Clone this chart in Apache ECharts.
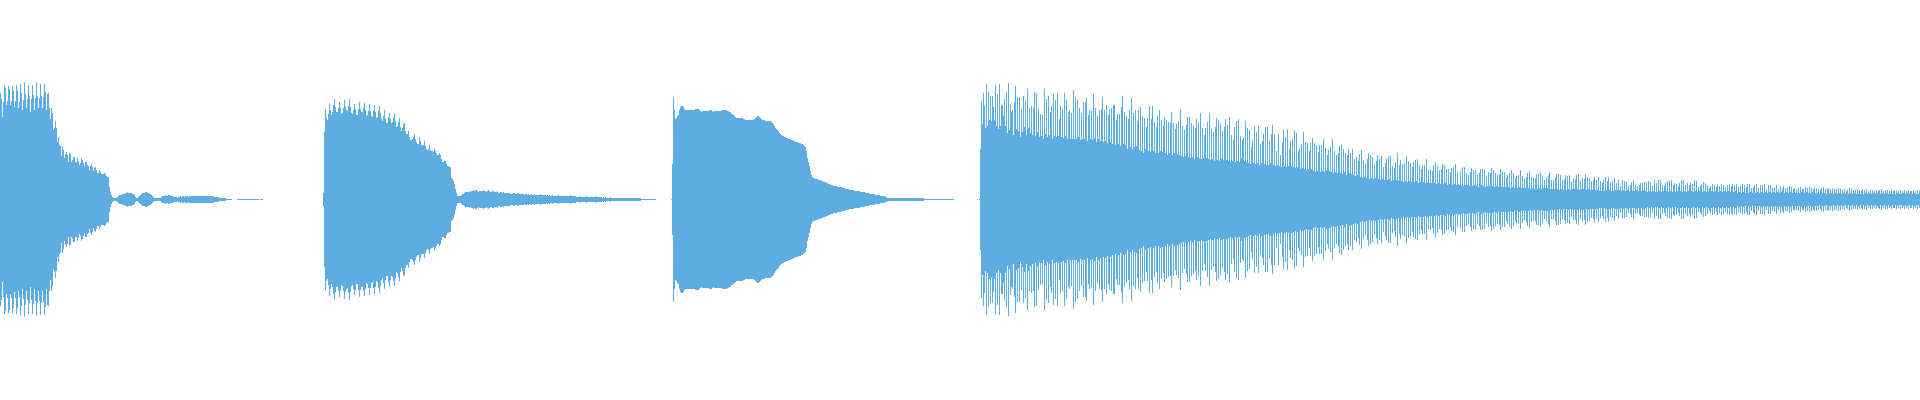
<!DOCTYPE html>
<html>
<head>
<meta charset="utf-8">
<style>html,body{margin:0;padding:0;background:#fff}#chart{width:1920px;height:400px}</style>
<script src="https://cdn.jsdelivr.net/npm/echarts@6/dist/echarts.min.js"></script>
</head>
<body>
<div id="chart"></div>
<script>
const _ = null; // silent sample: nothing is drawn in that column
const waveA = [
106,100,82,97,114,111,94,98,113,110,94,98,113,108,92,98,114,108,91,97,
115,106,89,99,117,105,91,100,114,103,87,100,114,104,89,101,116,103,91,101,
115,103,91,102,115,107,89,105,106,91,80,91,86,69,71,78,71,57,62,54,
53,43,53,49,41,45,47,44,37,46,45,37,39,42,42,37,37,41,38,34,
36,41,39,36,33,37,37,34,33,29,33,35,32,28,31,32,29,26,26,29,
27,25,25,25,26,25,23,22,22,12,7,4,2,1,1,1,1,2,3,4,
4,4,5,5,5,6,6,7,6,6,6,6,5,5,4,2,1,1,2,3,
4,5,6,6,6,7,7,6,6,5,5,4,3,2,1,1,1,1,1,1,
1,2,3,3,3,4,3,3,4,4,3,3,3,2,2,2,2,1,2,2,
3,2,3,3,2,3,3,3,2,3,3,3,3,3,3,3,3,3,3,3,
3,3,3,3,3,3,3,3,3,3,3,3,3,3,2,2,2,2,2,1,
1,1,1,1,1,1,0,0,0,0,0,0,_,_,_,_,_,0,0,0,
0,0,0,0,0,0,0,0,0,0,0,0,0,0,0,0,0,0,0,_,
0,0,0
];
const waveB = [
6,67,90,81,79,85,96,89,84,87,94,100,92,87,87,91,97,91,85,86,
91,99,92,89,88,93,100,92,86,85,89,95,90,84,84,90,97,90,87,87,
91,96,89,83,84,88,95,88,83,82,88,94,87,81,82,88,93,86,80,78,
83,89,80,76,76,82,86,80,76,77,81,86,78,72,73,77,81,72,68,71,
75,76,68,65,65,68,62,59,59,60,62,65,60,57,55,55,62,58,54,54,
54,58,53,50,49,50,54,49,48,48,47,50,48,46,44,44,46,44,40,37,
37,38,38,35,33,33,32,32,21,20,18,15,10,6,3,3,3,3,4,5,
5,6,7,7,7,7,8,7,8,8,9,8,9,9,8,7,8,8,8,8,
9,8,8,7,8,9,8,7,7,8,8,7,7,7,8,6,6,7,7,6,
7,6,6,6,6,6,6,5,5,5,6,6,5,5,6,5,5,5,5,5,
5,4,5,5,4,5,4,4,5,4,4,5,4,4,4,4,4,5,4,4,
4,4,4,3,4,3,4,3,3,4,3,3,3,3,3,4,3,3,3,3,
3,3,3,3,3,3,3,4,3,3,3,3,3,2,2,2,3,2,2,2,
2,2,2,3,2,2,2,2,2,2,2,2,3,2,2,2,2,2,2,1,
2,1,2,1,1,1,1,2,1,1,1,1,1,1,1,1,1,1,1,1,
1,1,1,1,1,1,1,1,1,1,1,1,1,1,1,1,1,1,0,0,
0,0,0,0,0,0,0,0,0,0,0,0,0
];
const waveC = [
0,35,102,89,80,81,83,84,89,92,93,93,92,90,89,89,89,89,89,89,
89,89,89,89,90,90,90,90,89,88,87,88,88,88,88,88,88,88,89,89,
89,88,87,88,88,88,88,88,88,88,88,89,89,89,89,89,88,88,87,87,
85,85,84,83,82,81,81,81,81,81,81,81,80,80,79,79,79,79,79,79,
79,79,79,80,81,82,83,83,82,81,80,79,79,79,78,78,78,78,78,78,
77,76,75,73,71,70,69,68,66,65,64,63,63,62,62,61,61,60,60,60,
59,59,58,58,57,57,57,56,56,56,55,55,54,53,52,48,41,37,33,28,
24,22,21,21,20,20,20,19,19,19,18,18,17,17,17,16,16,15,15,14,
14,14,13,13,13,13,12,12,12,12,12,11,11,11,10,10,10,10,9,9,
9,9,9,8,8,8,8,8,8,7,7,7,7,7,6,6,6,6,5,5,
5,5,5,5,4,4,4,4,4,3,3,3,3,3,2,2,1,1,1,1,
1,1,1,1,1,1,1,1,1,1,1,1,1,1,1,1,1,1,1,1,
1,1,1,1,1,1,1,1,1,1,1,1,1,0,0,0,0,0,0,0,
0,0,0,0,0,0,0,0,0,0,0,0,0,0,0,0,0,0,0,0,
0,0,0,_,_,_,_,_,_,_,_,_,_,_,_,_,_,_,_,_,
_,_,_,_,_,_,0
];
const waveD = [
0,50,98,75,106,93,71,115,73,107,79,103,78,103,92,79,114,73,105,70,
115,73,94,94,83,100,73,107,66,116,69,95,87,89,64,97,113,70,102,68,
102,62,90,67,103,72,98,64,110,71,91,66,93,64,91,107,63,106,67,90,
62,85,63,84,60,110,65,100,62,103,64,87,93,60,105,63,99,62,106,63,
80,93,62,91,61,106,63,99,60,87,89,60,86,60,109,60,102,60,99,62,
91,59,86,60,97,60,97,101,58,84,89,60,88,59,105,61,91,57,83,60,
89,58,90,102,57,89,58,94,56,84,90,57,91,55,94,94,54,79,85,55,
85,53,92,103,55,87,54,83,50,80,89,52,101,50,86,52,89,53,78,89,
49,92,48,83,46,81,50,72,81,48,93,47,80,93,48,77,46,72,83,46,
89,48,79,47,73,82,46,79,44,77,46,76,87,44,76,46,70,75,45,78,
44,90,43,73,42,69,43,74,82,42,82,41,76,42,74,40,71,80,42,76,
41,86,40,71,41,64,71,41,77,40,86,39,70,40,67,38,72,81,39,79,
38,75,40,68,39,72,80,39,74,38,82,37,64,38,59,72,37,78,38,80,
37,63,41,59,61,38,78,37,71,36,69,35,52,59,36,73,35,67,36,73,
34,55,36,58,65,35,72,34,72,34,58,36,65,74,34,65,33,48,34,65,
33,44,32,57,69,33,62,32,70,33,50,58,33,60,32,69,31,66,32,48,
51,30,55,31,67,30,57,29,56,30,48,56,30,61,28,56,27,54,28,47,
54,27,54,28,60,27,51,29,44,49,28,52,27,60,26,48,27,44,26,46,
53,26,55,25,50,27,46,24,44,50,26,46,25,50,24,40,23,42,24,38,
45,22,49,21,39,22,35,21,40,46,20,44,21,42,20,34,21,38,44,20,
40,19,43,20,32,19,36,40,19,43,20,43,18,33,19,31,37,19,46,18,
34,39,18,35,17,36,18,43,17,38,18,36,17,32,37,17,39,18,40,16,
34,17,30,34,17,34,16,40,17,29,16,30,16,28,34,16,37,15,33,16,
29,15,30,35,15,34,16,30,14,30,15,27,31,14,32,15,35,14,27,15,
14,28,14,32,13,32,14,26,14,24,13,27,31,13,29,14,29,13,24,12,
26,30,14,30,13,29,12,23,13,27,13,26,31,13,29,12,26,13,24,12,
25,30,12,27,12,27,12,21,24,12,26,11,29,12,26,11,21,23,11,24,
12,29,11,23,11,20,11,22,26,11,28,10,22,11,21,10,21,25,10,25,
11,27,10,23,11,19,11,21,11,24,27,10,19,10,19,10,21,25,10,25,
9,24,10,19,9,20,24,9,23,10,24,9,17,10,20,10,20,24,10,25,
9,19,10,21,10,20,25,9,22,10,21,9,18,9,19,22,9,19,9,22,
8,18,8,16,19,8,22,9,18,22,9,17,8,18,8,21,9,16,9,19,
9,13,8,19,9,18,8,17,9,13,8,14,17,8,19,8,14,9,13,8,
14,16,8,16,9,17,8,17,7,18,8,17,7,13,8,19,7,16,7,19,
8,19,7,14,8,13,16,8,18,7,18,8,19,7,14,16,7,15,8,13,
16,8,19,7,19,8,14,7,16,8,14,17,8,15,7,19,8,18,7,12,
8,13,15,7,17,8,16,7,14,8,11,13,8,15,7,14,8,12,15,7,
13,8,15,7,14,8,12,7,14,8,15,7,13,15,7,14,8,15,6,12,
7,13,6,15,7,14,6,12,15,6,15,7,11,6,12,14,6,15,7,11,
6,14,7,14,6,15,7,10,6,14,7,14,6,11,7,12,6,14,7,10,
6,13,7,11,13,6,11,7,11,6,13,7,12,6,10,11,6,10,6,11,
6,12,7,10,10,6,12,7,11,6,12,6,11,7,10,11,6,11,6,10,
5,9,11,6,12,6,10,5,10,11,6,10,6,11,5,10,6,10,5,11,
6,10,5,9,6,10,5,8,9,5,11,6,10,5,9,6,9,5,10,6,
9,5,8,10,5,9,6,10,5,8,6,9,5,9,6,8,5,9,6,8,
9,5,10,6,8,5,9,6,9,5,8,6,9,5,8,8,5,9,6,8,
5,9,5,8,6,9,5,8,6,9,5,8,8,5,9,6,8,5,9,5,8
];
const clips = [waveA, waveB, waveC, waveD];
const clipStarts = [0, 323, 671, 979];
const columnCount = 1920;

const columns = [];
const upper = [];
const lower = [];
for (let i = 0; i < columnCount; i++) { columns.push(i); upper.push(null); lower.push(null); }
clips.forEach((clip, k) => {
  clip.forEach((v, i) => {
    const x = clipStarts[k] + i;
    if (x < columnCount && v !== null) { upper[x] = v + 1; lower[x] = -v; }
  });
});

const color = '#5dade2';
const barSeries = (data) => ({
  type: 'bar', data, stack: 'wave', barWidth: 1, silent: true,
  itemStyle: { color }, animation: false, progressive: 0
});
const chart = echarts.init(document.getElementById('chart'), null, { renderer: 'canvas' });
chart.setOption({
  animation: false,
  backgroundColor: '#ffffff',
  grid: { left: 0, right: 0, top: 0, bottom: 0 },
  xAxis: { type: 'category', data: columns, show: false, boundaryGap: true },
  yAxis: { type: 'value', min: -200, max: 200, show: false },
  series: [barSeries(upper), barSeries(lower)]
});
</script>
</body>
</html>
